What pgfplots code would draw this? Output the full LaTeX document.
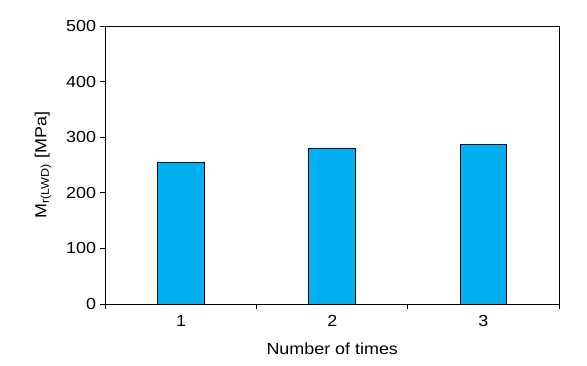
\documentclass[border=0pt]{standalone}
\usepackage{pgfplots}
\pgfplotsset{compat=1.18}
\usepackage{fontspec}
\setmainfont{Liberation Sans}[FakeStretch=1.12]
\definecolor{barblue}{RGB}{0,176,240}
\begin{document}
\begin{tikzpicture}
\begin{axis}[
  scale only axis,
  width=453.5bp, height=278bp,
  xmin=0.5, xmax=3.5, ymin=0, ymax=500,
  xtick={0.5,1.5,2.5,3.5},
  xticklabels={},
  extra x ticks={1,2,3},
  extra x tick labels={1,2,3},
  extra x tick style={major tick length=0pt},
  ytick={0,100,200,300,400,500},
  tick pos=left,
  tick align=outside,
  major tick length=5bp,
  tick style={black, line width=0.8pt},
  axis line style={line width=0.8pt},
  font=\fontsize{16bp}{19bp}\selectfont,
  /pgf/number format/assume math mode=true,
  ticklabel style={font=\fontsize{16bp}{19bp}\selectfont},
  xticklabel style={yshift=-8bp},
  yticklabel style={xshift=-1bp},
  xlabel={Number of times},
  xlabel style={yshift=-4bp},
  ylabel={M\textsubscript{r(LWD)} [MPa]},
  ylabel style={yshift=8bp},
  clip=false,
]
\addplot[ybar, bar width=0.31, fill=barblue, draw=black, line width=0.8pt]
  coordinates {(1,255) (2,280) (3,287)};
\coordinate (o) at (rel axis cs:0,0);
\coordinate (t) at (rel axis cs:1,1);
\end{axis}
\pgfresetboundingbox
\path ([xshift=-105.5bp,yshift=-62bp]o) rectangle ([xshift=28bp,yshift=26bp]t);
\end{tikzpicture}
\end{document}
